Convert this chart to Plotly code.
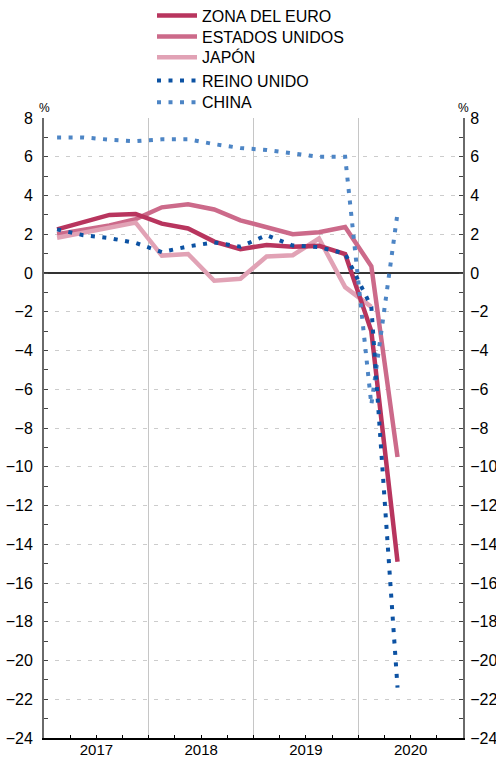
import plotly.graph_objects as go

# ---- data (year-on-year GDP growth, %) ----
years    = [2017, 2017, 2017, 2017, 2018, 2018, 2018, 2018, 2019, 2019, 2019, 2019, 2020, 2020]
quarters = [1, 2, 3, 4, 1, 2, 3, 4, 1, 2, 3, 4, 1, 2]

zona_euro      = [2.25, 2.65, 3.0, 3.05, 2.55, 2.3, 1.62, 1.23, 1.45, 1.35, 1.4, 0.98, -3.0, -14.9]
estados_unidos = [2.0, 2.2, 2.45, 2.78, 3.39, 3.55, 3.28, 2.72, 2.35, 2.0, 2.1, 2.37, 0.35, -9.5]
japon          = [1.82, 2.08, 2.35, 2.6, 0.9, 0.98, -0.4, -0.3, 0.85, 0.92, 1.78, -0.73, -1.75]
reino_unido    = [2.25, 1.95, 1.8, 1.55, 1.08, 1.37, 1.58, 1.36, 1.95, 1.42, 1.33, 1.0, -1.75, -21.4]
china          = [7.0, 7.0, 6.88, 6.8, 6.9, 6.9, 6.65, 6.45, 6.35, 6.17, 6.0, 6.0, -6.8, 3.1]

series_names = ["ZONA DEL EURO", "ESTADOS UNIDOS", "JAPÓN", "REINO UNIDO", "CHINA"]
year_labels = ["2017", "2018", "2019", "2020"]
y_ticks = list(range(-24, 9, 2))

first_year = 2017
x = [(y - first_year) * 4 + (q - 1) for y, q in zip(years, quarters)]
n_quarters = 4 * len(year_labels)
year_centers = [i * 4 + 1.5 for i in range(len(year_labels))]
year_bounds = [i * 4 - 0.5 for i in range(1, len(year_labels))]

FONT = "Liberation Sans, Arial, sans-serif"
C_EURO = "#b8355e"
C_US = "#cc6a8a"
C_JP = "#e1a2b5"
C_UK = "#0c52a3"
C_CN = "#4d85c5"
DOT = "4px,7.5px"

# legend row centres (px from top of figure) and plot-area geometry
legend_rows = [16.7, 37.7, 58.3, 81.7, 103.3]
M_L, M_R, M_T, M_B = 44, 33, 118, 19
W, H = 496, 757
PLOT_H = H - M_T - M_B

fig = go.Figure()

def legend_key(i):
    return "legend" if i == 0 else f"legend{i + 1}"

def add(idx, vals, color, dash):
    fig.add_trace(go.Scatter(
        x=x[:len(vals)], y=vals, name=series_names[idx], mode="lines",
        line=dict(color=color, width=4.5 if dash == "solid" else 4, dash=dash),
        legend=legend_key(idx), hoverinfo="skip"))

# draw order (bottom to top)
add(1, estados_unidos, C_US, "solid")
add(2, japon, C_JP, "solid")
add(0, zona_euro, C_EURO, "solid")
add(4, china, C_CN, DOT)
add(3, reino_unido, C_UK, DOT)

# invisible helper traces to activate overlay axes
for xa, ya in (("x2", "y2"), ("x3", "y")):
    fig.add_trace(go.Scatter(x=x, y=zona_euro, xaxis=xa, yaxis=ya, mode="lines",
                             line=dict(color="rgba(0,0,0,0)"), showlegend=False,
                             hoverinfo="skip"))

yaxis_common = dict(
    range=[-24, 8], tickmode="array", tickvals=y_ticks,
    ticks="inside", ticklen=4, tickwidth=1, tickcolor="#444",
    minor=dict(dtick=1, tick0=0, ticks="inside", ticklen=4, tickwidth=1,
               tickcolor="#444", showgrid=False),
    showline=True, linecolor="#6a6a6a", linewidth=2,
    tickfont=dict(family=FONT, size=16, color="#000"),
)

legends = {}
for i, row in enumerate(legend_rows):
    top = row - 18.0
    legends[legend_key(i)] = dict(
        xref="container", yref="paper",
        x=152 / W, y=(H - M_B - top) / PLOT_H,
        xanchor="left", yanchor="top",
        font=dict(family=FONT, size=16, color="#000"),
        bgcolor="rgba(0,0,0,0)", itemwidth=40,
    )

fig.update_layout(
    width=W, height=H,
    margin=dict(l=M_L, r=M_R, t=M_T, b=M_B, autoexpand=False),
    paper_bgcolor="white", plot_bgcolor="white",
    showlegend=True,
    **legends,
    xaxis=dict(
        range=[-0.5, n_quarters - 0.5], tickmode="array",
        tickvals=year_centers, ticktext=year_labels, ticks="",
        showgrid=False, zeroline=False,
        showline=True, linecolor="#000", linewidth=2,
        tickfont=dict(family=FONT, size=15, color="#000"),
        ticklabelstandoff=-3,
    ),
    xaxis2=dict(
        matches="x", overlaying="x", side="bottom", anchor="y2",
        tickmode="array", tickvals=year_bounds, showticklabels=False, ticks="",
        showgrid=True, gridcolor="#c6c6c6", gridwidth=1, zeroline=False,
        showline=False,
    ),
    xaxis3=dict(
        matches="x", overlaying="x", side="bottom", anchor="y",
        tickmode="linear", tick0=-0.5, dtick=1, showticklabels=False,
        ticks="inside", ticklen=3, tickwidth=1, tickcolor="#000",
        showgrid=False, zeroline=False, showline=False,
    ),
    yaxis=dict(
        **yaxis_common, ticklabelstandoff=6,
        showgrid=True, gridcolor="#cccccc", gridwidth=1, griddash="4px,7px",
        zeroline=True, zerolinecolor="#333333", zerolinewidth=1.5,
    ),
    yaxis2=dict(
        **yaxis_common, ticklabelstandoff=2,
        matches="y", overlaying="y", side="right", anchor="x2",
        showgrid=False, zeroline=False,
    ),
    annotations=[
        dict(text="%", xref="paper", yref="paper", x=0, y=1, yshift=10,
             xanchor="center", yanchor="middle",
             showarrow=False, font=dict(family=FONT, size=12, color="#000")),
        dict(text="%", xref="paper", yref="paper", x=1, y=1, yshift=10,
             xanchor="center", yanchor="middle",
             showarrow=False, font=dict(family=FONT, size=12, color="#000")),
    ],
)

fig.write_html("out.html", config={"displayModeBar": False},
               post_script="document.body.style.margin='0';")
